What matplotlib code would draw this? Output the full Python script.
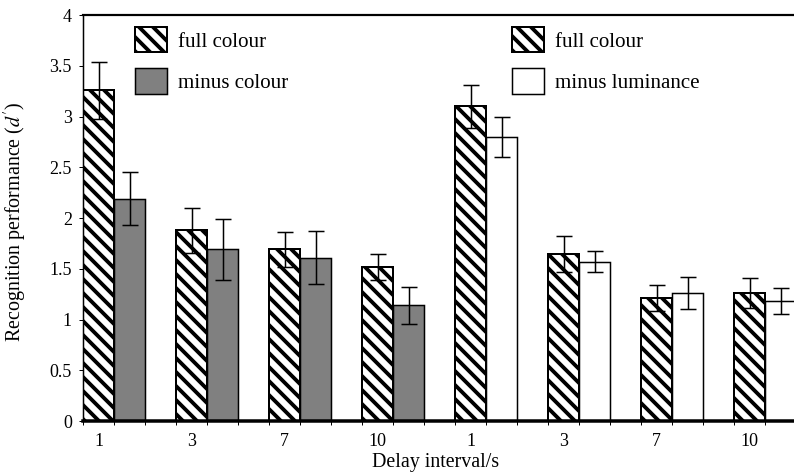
import matplotlib.pyplot as plt
from matplotlib.patches import Patch
import numpy as np

DPI = 84
plt.rcParams['font.family'] = 'Liberation Serif'
plt.rcParams['mathtext.fontset'] = 'stix'
plt.rcParams['hatch.linewidth'] = 3.3

# experiment 1: full colour vs minus colour
colour_delays = ['1', '3', '7', '10']
colour_full = [3.26, 1.88, 1.69, 1.52]
colour_full_err = [0.28, 0.22, 0.17, 0.13]
colour_minus = [2.19, 1.69, 1.61, 1.14]
colour_minus_err = [0.26, 0.30, 0.26, 0.18]

# experiment 2: full colour vs minus luminance
lum_delays = ['1', '3', '7', '10']
lum_full = [3.10, 1.645, 1.21, 1.26]
lum_full_err = [0.21, 0.18, 0.13, 0.15]
lum_minus = [2.80, 1.57, 1.26, 1.18]
lum_minus_err = [0.20, 0.10, 0.16, 0.13]

yticks = [0, 0.5, 1, 1.5, 2, 2.5, 3, 3.5, 4]

W, H = 794, 474
fig = plt.figure(figsize=(W / DPI, H / DPI), dpi=DPI)
ax = fig.add_axes([83 / W, (H - 421) / H, 744 / W, 406 / H])

px = 72 / DPI  # points per pixel
HATCH = '\\\\'

full = colour_full + lum_full
full_err = colour_full_err + lum_full_err
minus = colour_minus + lum_minus
minus_err = colour_minus_err + lum_minus_err
n = len(full)
x0 = np.arange(n) * 3

ax.bar(x0, full, width=1, align='edge', facecolor='white', edgecolor='black',
       hatch=HATCH, linewidth=2 * px, zorder=2)
ax.bar(x0[:4] + 1, colour_minus, width=1, align='edge', facecolor='#808080',
       edgecolor='black', linewidth=1.5 * px, zorder=2)
ax.bar(x0[4:] + 1, lum_minus, width=1, align='edge', facecolor='white',
       edgecolor='black', linewidth=1.5 * px, zorder=2)

ax.errorbar(x0 + 0.5, full, yerr=full_err, fmt='none', ecolor='black',
            elinewidth=1.5 * px, capsize=8 * px, capthick=1.5 * px, zorder=3)
ax.errorbar(x0 + 1.5, minus, yerr=minus_err, fmt='none', ecolor='black',
            elinewidth=1.5 * px, capsize=8 * px, capthick=1.5 * px, zorder=3)

ax.set_xlim(0, 3 * n)
ax.set_ylim(0, 4)
ax.set_yticks(yticks)
ax.set_yticklabels([f'{v:g}' for v in yticks])
ax.set_xticks(x0 + 0.5)
ax.set_xticklabels(colour_delays + lum_delays)
ax.set_xticks(np.arange(3 * n + 1), minor=True)

tick_fs = 18 * px
ax.tick_params(axis='y', direction='out', length=4 * px, width=1 * px,
               pad=7 * px, labelsize=tick_fs)
ax.tick_params(axis='x', which='major', length=0, pad=12 * px, labelsize=tick_fs)
ax.tick_params(axis='x', which='minor', direction='out', length=4 * px, width=1 * px)

ax.spines['bottom'].set_linewidth(3.5 * px)
ax.spines['top'].set_linewidth(2.2 * px)
ax.spines['left'].set_linewidth(1.5 * px)
ax.spines['right'].set_visible(False)
ax.spines['bottom'].set_zorder(4)

lab_fs = 20 * px
fig.text(436 / W, 1 - 462 / H, 'Delay interval/s', ha='center', va='center',
         fontsize=lab_fs)
fig.text(15 / W, 1 - 222 / H, "Recognition performance ($d'$)", rotation=90,
         ha='center', va='center', fontsize=lab_fs)

leg_fs = 21 * px
hatched = Patch(facecolor='white', edgecolor='black', hatch=HATCH, linewidth=2 * px)
grey = Patch(facecolor='#808080', edgecolor='black', linewidth=1.5 * px)
plain = Patch(facecolor='white', edgecolor='black', linewidth=1.5 * px)

leg_kw = dict(frameon=False, fontsize=leg_fs, handlelength=32 / 21,
              handleheight=31 / 21, labelspacing=16 / 21, handletextpad=11 / 21,
              borderpad=0, borderaxespad=0, loc='upper left',
              bbox_transform=fig.transFigure)
leg1 = ax.legend([hatched, grey], ['full colour', 'minus colour'],
                 bbox_to_anchor=(135 / W, 1 - 27 / H), **leg_kw)
ax.add_artist(leg1)
ax.legend([hatched, plain], ['full colour', 'minus luminance'],
          bbox_to_anchor=(512 / W, 1 - 27 / H), **leg_kw)

fig.savefig('out.png', dpi=DPI)
